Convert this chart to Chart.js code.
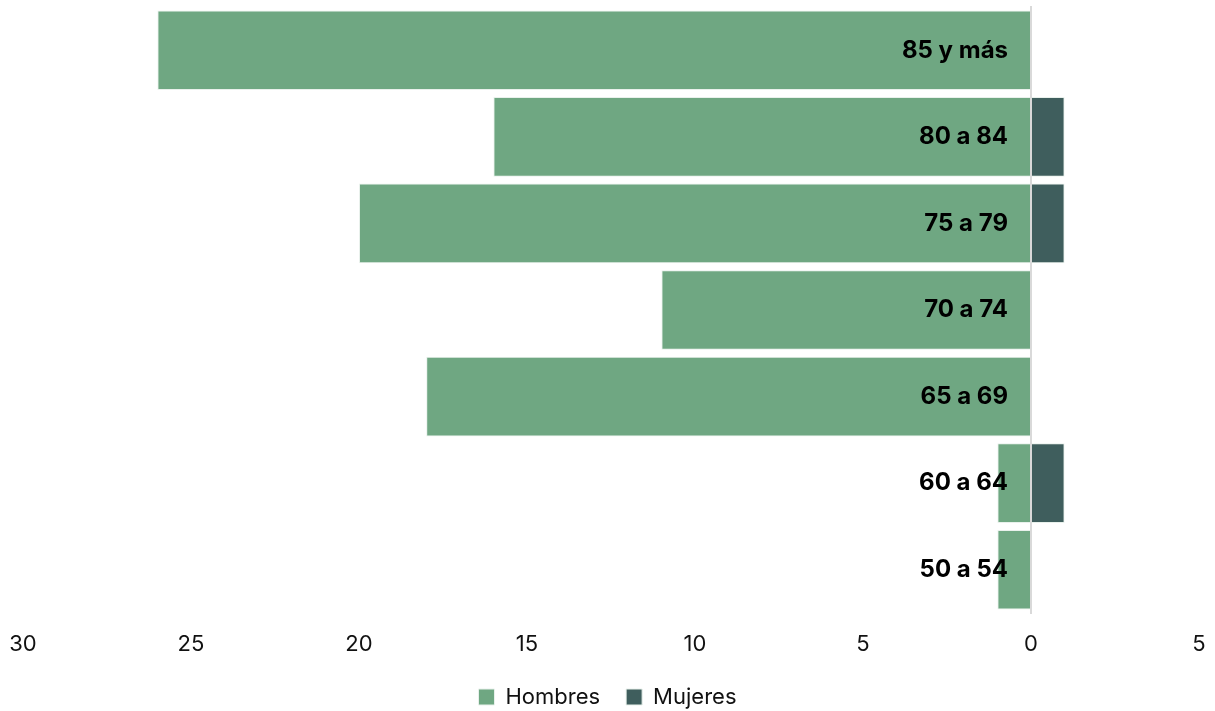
<!DOCTYPE html>
<html>
<head>
<meta charset="utf-8">
<script src="https://cdn.jsdelivr.net/npm/chart.js@4"></script>
<style>
  html, body { margin: 0; padding: 0; background: #fff; }
  #wrap { width: 1215px; height: 711px; }
</style>
</head>
<body>
<div id="wrap"><canvas id="pyramidChart"></canvas></div>
<script>
const ageGroups = ['85 y más', '80 a 84', '75 a 79', '70 a 74', '65 a 69', '60 a 64', '50 a 54'];
const hombres = [26, 16, 20, 11, 18, 1, 1];
const mujeres = [0, 1, 1, 0, 0, 1, 0];
const xTicks = [-30, -25, -20, -15, -10, -5, 0, 5];

Chart.defaults.font.family = 'Inter, sans-serif';
Chart.defaults.color = '#111';

// age labels sit just left of the zero line, on top of the bars
const ageLabels = {
    id: 'ageLabels',
    afterDatasetsDraw(chart) {
        const { ctx, scales: { x, y } } = chart;
        const zeroX = x.getPixelForValue(0);
        ctx.save();
        ctx.font = 'bold 24px Inter, sans-serif';
        ctx.fillStyle = '#000';
        ctx.textAlign = 'right';
        ctx.textBaseline = 'middle';
        ageGroups.forEach((label, i) => {
            ctx.fillText(label, zeroX - 23, y.getPixelForValue(i));
        });
        ctx.restore();
    }
};

const ctx = document.getElementById('pyramidChart').getContext('2d');

new Chart(ctx, {
    type: 'bar',
    data: {
        labels: ageGroups,
        datasets: [
            {
                label: 'Hombres',
                data: hombres.map(v => -v),
                backgroundColor: '#6fa782',
                borderColor: '#e9f1ec',
                borderWidth: 1
            },
            {
                label: 'Mujeres',
                data: mujeres,
                backgroundColor: '#3f5e5d',
                borderColor: '#e9f1ec',
                borderWidth: 1
            }
        ]
    },
    options: {
        indexAxis: 'y',
        responsive: true,
        maintainAspectRatio: false,
        animation: false,
        barPercentage: 0.92,
        categoryPercentage: 1,
        layout: { padding: { left: 0, right: 0, top: 7, bottom: 0 } },
        scales: {
            x: {
                stacked: true,
                min: -30,
                max: 5,
                afterBuildTicks: axis => { axis.ticks = xTicks.map(v => ({ value: v })); },
                afterFit: axis => {
                    axis.paddingLeft = 23;
                    axis.paddingRight = 16;
                    axis.height = 47;
                },
                ticks: {
                    callback: v => Math.abs(v),
                    font: { size: 22 },
                    color: '#111',
                    padding: 18
                },
                grid: { display: false, drawTicks: false },
                border: { display: false }
            },
            y: {
                stacked: true,
                position: { x: 0 },
                ticks: { display: false },
                grid: { display: false, drawTicks: false },
                border: { display: true, color: '#d9d9d9', width: 2, z: 1 }
            }
        },
        plugins: {
            legend: {
                position: 'bottom',
                maxHeight: 51,
                labels: {
                    boxWidth: 16,
                    boxHeight: 16,
                    padding: 26,
                    font: { size: 22 },
                    color: '#111'
                }
            },
            tooltip: { enabled: false }
        }
    },
    plugins: [ageLabels]
});
</script>
</body>
</html>
